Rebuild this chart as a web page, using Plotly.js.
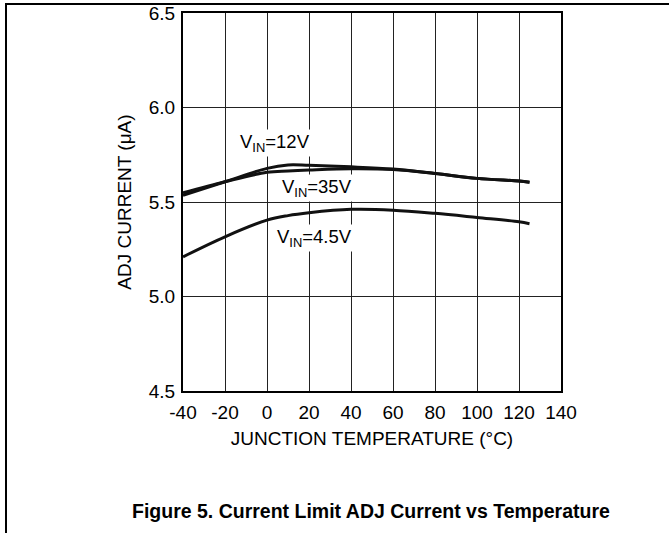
<!DOCTYPE html>
<html>
<head>
<meta charset="utf-8">
<script src="https://cdn.plot.ly/plotly-3.0.1.min.js"></script>
<style>
html,body{margin:0;padding:0;background:#fff;}
#chart{width:669px;height:533px;}
</style>
</head>
<body>
<div id="chart"></div>
<script>
// Data
const temps = [-40, -20, 0, 10, 20, 40, 60, 80, 100, 120, 125];
const vin12 = [5.535, 5.607, 5.678, 5.696, 5.694, 5.686, 5.674, 5.651, 5.625, 5.611, 5.605];
const vin35 = [5.548, 5.607, 5.657, 5.664, 5.669, 5.676, 5.672, 5.651, 5.625, 5.611, 5.605];
const vin45 = [5.210, 5.316, 5.404, 5.428, 5.443, 5.461, 5.457, 5.440, 5.418, 5.395, 5.385];
const xTicks = [-40, -20, 0, 20, 40, 60, 80, 100, 120, 140];
const yTicks = [4.5, 5.0, 5.5, 6.0, 6.5];
const seriesLabels = ['V<sub>IN</sub>=12V', 'V<sub>IN</sub>=35V', 'V<sub>IN</sub>=4.5V'];
const labelPos = [[4, 5.812], [24, 5.574], [22.5, 5.309]];

const W = 669, H = 533;
const M = {l: 183, r: 108, t: 13, b: 142};
const pw = W - M.l - M.r, ph = H - M.t - M.b;
const px = v => (v - M.l) / pw;
const py = v => (H - M.b - v) / ph;

const font = {family: 'Liberation Sans, Arial, sans-serif', color: '#000'};
const mk = (y) => ({x: temps, y: y, type: 'scatter', mode: 'lines',
  line: {color: '#111', width: 3, shape: 'spline', smoothing: 1}, hoverinfo: 'skip'});

const data = [mk(vin12), mk(vin35), mk(vin45)];

const annotations = seriesLabels.map((t, i) => ({
  x: labelPos[i][0], y: labelPos[i][1], xref: 'x', yref: 'y', text: t,
  showarrow: false, bgcolor: '#fff', borderpad: 1,
  font: Object.assign({}, font, {size: 18.5})
}));
annotations.push({
  xref: 'paper', yref: 'paper', x: px(371), y: py(511), text: '<b>Figure 5. Current Limit ADJ Current vs Temperature</b>',
  showarrow: false, font: Object.assign({}, font, {size: 19.5}), xanchor: 'center', yanchor: 'middle'
});

const layout = {
  width: W, height: H, margin: M, showlegend: false,
  paper_bgcolor: '#fff', plot_bgcolor: '#fff',
  font: Object.assign({}, font, {size: 19}),
  xaxis: {range: [-40, 140], tickvals: xTicks, ticktext: xTicks.map(String),
    showgrid: true, gridcolor: '#222', gridwidth: 1, zeroline: false,
    showline: true, linecolor: '#000', linewidth: 2, mirror: true, ticks: '',
    ticklabelstandoff: 3, tickfont: Object.assign({}, font, {size: 19}),
    title: {text: 'JUNCTION TEMPERATURE (°C)', font: Object.assign({}, font, {size: 19}), standoff: 10}},
  yaxis: {range: [4.5, 6.5], tickvals: yTicks, ticktext: yTicks.map(v => v.toFixed(1)),
    showgrid: true, gridcolor: '#222', gridwidth: 1, zeroline: false,
    showline: true, linecolor: '#000', linewidth: 2, mirror: true, ticks: '',
    ticklabelstandoff: 2, tickfont: Object.assign({}, font, {size: 19}),
    title: {text: 'ADJ CURRENT (μA)', font: Object.assign({}, font, {size: 19}), standoff: 12}},
  annotations: annotations,
  shapes: [
    {type: 'line', xref: 'paper', yref: 'paper', x0: px(5), x1: px(669), y0: py(4), y1: py(4), line: {color: '#000', width: 2}},
    {type: 'line', xref: 'paper', yref: 'paper', x0: px(6), x1: px(6), y0: py(4), y1: py(533), line: {color: '#000', width: 2}}
  ]
};

Plotly.newPlot('chart', data, layout, {staticPlot: true, displayModeBar: false});
</script>
</body>
</html>
